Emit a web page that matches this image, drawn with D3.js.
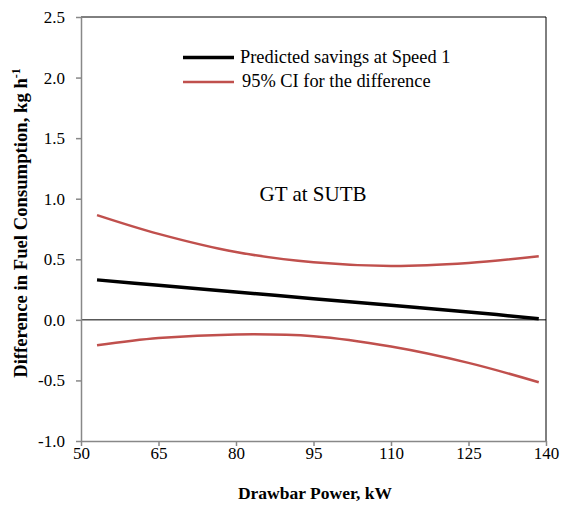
<!DOCTYPE html>
<html><head><meta charset="utf-8">
<script src="https://cdn.jsdelivr.net/npm/d3@7"></script>
<style>body{margin:0;background:#fff}svg{display:block}</style>
</head><body><svg id="c" width="576" height="506"></svg>
<script>
const powerKW = [53.1, 65, 80, 95, 110, 125, 138.6];
const predicted = [0.33, 0.285, 0.23, 0.175, 0.12, 0.065, 0.01];
const ciUpper = [0.865, 0.71, 0.56, 0.475, 0.445, 0.47, 0.525];
const ciLower = [-0.21, -0.15, -0.12, -0.135, -0.22, -0.355, -0.515];
const xTicks = [50, 65, 80, 95, 110, 125, 140];
const yTicks = [-1.0, -0.5, 0.0, 0.5, 1.0, 1.5, 2.0, 2.5];

const svg = d3.select("#c");
const font = "'Liberation Serif','Times New Roman',serif";
const L = 81, R = 546, T = 17, B = 441;
const x = d3.scaleLinear().domain([50, 140]).range([L, R]);
const y = d3.scaleLinear().domain([-1, 2.5]).range([B, T]);

svg.append("line").attr("x1", L).attr("x2", R).attr("y1", T).attr("y2", T).attr("stroke", "#000").attr("stroke-width", 1);
svg.append("line").attr("x1", R).attr("x2", R).attr("y1", T).attr("y2", B).attr("stroke", "#000").attr("stroke-width", 1);
svg.append("line").attr("x1", L).attr("x2", R).attr("y1", y(0)).attr("y2", y(0)).attr("stroke", "#000").attr("stroke-width", 1);

const fmtY = d => d3.format(".1f")(d).replace("\u2212", "-");
const yAxis = svg.append("g").attr("transform", `translate(${L},0)`)
  .call(d3.axisLeft(y).tickValues(yTicks).tickFormat(fmtY).tickSize(5).tickSizeOuter(0));
const xAxis = svg.append("g").attr("transform", `translate(0,${B})`)
  .call(d3.axisBottom(x).tickValues(xTicks).tickFormat(d3.format("d")).tickSize(5).tickSizeOuter(0));
[yAxis, xAxis].forEach(a => {
  a.attr("font-family", font);
  a.selectAll("path,line").attr("stroke", "#888").attr("stroke-width", 1.5);
  a.selectAll("text").attr("fill", "#000").style("font-family", font).style("font-size", "17px");
});
yAxis.selectAll("text").attr("x", -16);
xAxis.selectAll("text").attr("y", 6);

const pts = arr => powerKW.map((p, i) => [p, arr[i]]);
const line = d3.line().x(d => x(d[0])).y(d => y(d[1])).curve(d3.curveCatmullRom);

svg.append("path").attr("d", line(pts(ciUpper))).attr("fill", "none").attr("stroke", "#c0504d").attr("stroke-width", 2.5);
svg.append("path").attr("d", line(pts(ciLower))).attr("fill", "none").attr("stroke", "#c0504d").attr("stroke-width", 2.5);
svg.append("path").attr("d", line(pts(predicted))).attr("fill", "none").attr("stroke", "#000").attr("stroke-width", 3.5);

const lg = svg.append("g");
lg.append("line").attr("x1", 183).attr("x2", 234).attr("y1", 57.5).attr("y2", 57.5).attr("stroke", "#000").attr("stroke-width", 3.5);
lg.append("line").attr("x1", 183).attr("x2", 234).attr("y1", 82).attr("y2", 82).attr("stroke", "#c0504d").attr("stroke-width", 2.5);
lg.append("text").attr("x", 240).attr("y", 63).text("Predicted savings at Speed 1").style("font-family", font).style("font-size", "18.4px");
lg.append("text").attr("x", 242).attr("y", 87).text("95% CI for the difference").style("font-family", font).style("font-size", "18.4px");

svg.append("text").attr("x", 313).attr("y", 201).attr("text-anchor", "middle").text("GT at SUTB")
  .style("font-family", font).style("font-size", "21px");

svg.append("text").attr("x", 315).attr("y", 499).attr("text-anchor", "middle").text("Drawbar Power, kW")
  .style("font-family", font).style("font-size", "17.5px").style("font-weight", "bold");

const yl = svg.append("text").attr("transform", `translate(27,223) rotate(-90)`).attr("text-anchor", "middle")
  .style("font-family", font).style("font-size", "18.7px").style("font-weight", "bold");
yl.append("tspan").text("Difference in Fuel Consumption, kg h");
yl.append("tspan").attr("dy", -7).style("font-size", "12px").text("-1");
</script></body></html>
